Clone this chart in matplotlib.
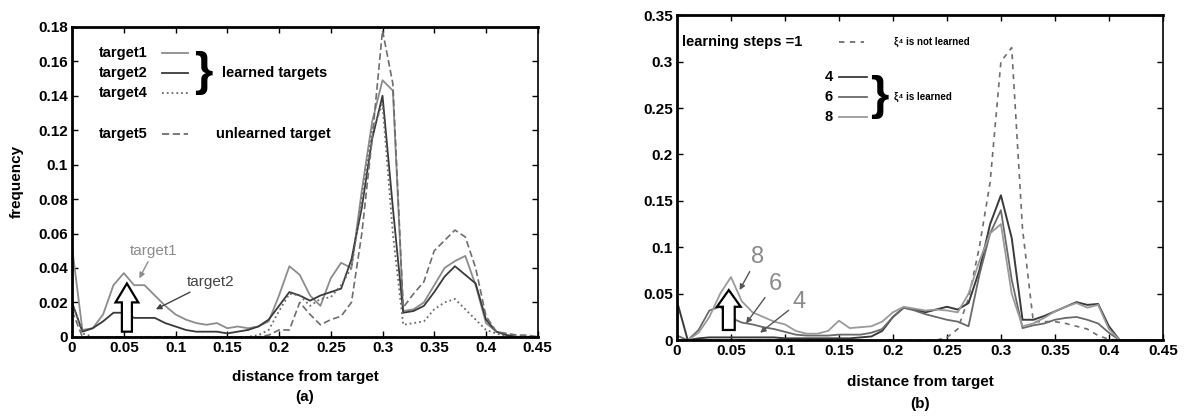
import numpy as np
import matplotlib
matplotlib.use("Agg")
import matplotlib.pyplot as plt
from matplotlib.lines import Line2D
from matplotlib.patches import FancyArrow

plt.rcParams['font.family'] = ['Liberation Sans', 'DejaVu Sans']
plt.rcParams['font.weight'] = 'bold'

# distance bins (shared by both panels)
dist = [0.00, 0.01, 0.02, 0.03, 0.04, 0.05, 0.06, 0.07, 0.08, 0.09,
        0.10, 0.11, 0.12, 0.13, 0.14, 0.15, 0.16, 0.17, 0.18, 0.19,
        0.20, 0.21, 0.22, 0.23, 0.24, 0.25, 0.26, 0.27, 0.28, 0.29,
        0.30, 0.31, 0.32, 0.33, 0.34, 0.35, 0.36, 0.37, 0.38, 0.39,
        0.40, 0.41, 0.42, 0.43, 0.44, 0.45]

# panel (a): frequency per target
target1 = [0.052, 0.004, 0.005, 0.013, 0.030, 0.037, 0.030, 0.030, 0.024, 0.018,
           0.013, 0.010, 0.008, 0.007, 0.008, 0.005, 0.006, 0.005, 0.006, 0.009,
           0.024, 0.041, 0.036, 0.024, 0.018, 0.034, 0.043, 0.040, 0.085, 0.125,
           0.149, 0.143, 0.015, 0.016, 0.020, 0.030, 0.040, 0.044, 0.047, 0.030,
           0.008, 0.003, 0.001, 0.000, 0.000, 0.000]
target2 = [0.020, 0.003, 0.005, 0.009, 0.014, 0.014, 0.011, 0.011, 0.011, 0.008,
           0.006, 0.004, 0.003, 0.003, 0.003, 0.002, 0.003, 0.004, 0.006, 0.010,
           0.018, 0.026, 0.024, 0.021, 0.024, 0.026, 0.028, 0.045, 0.075, 0.115,
           0.140, 0.075, 0.014, 0.015, 0.018, 0.026, 0.035, 0.041, 0.036, 0.031,
           0.010, 0.003, 0.001, 0.000, 0.000, 0.000]
target4 = [0.020, 0.002, 0.000, 0.000, 0.000, 0.000, 0.000, 0.000, 0.000, 0.000,
           0.000, 0.000, 0.000, 0.000, 0.000, 0.000, 0.000, 0.000, 0.001, 0.004,
           0.015, 0.025, 0.024, 0.018, 0.022, 0.023, 0.030, 0.040, 0.080, 0.120,
           0.135, 0.060, 0.007, 0.008, 0.009, 0.016, 0.020, 0.022, 0.016, 0.010,
           0.004, 0.002, 0.000, 0.000, 0.000, 0.000]
target5 = [0.015, 0.000, 0.000, 0.000, 0.000, 0.000, 0.000, 0.000, 0.000, 0.000,
           0.000, 0.000, 0.000, 0.000, 0.000, 0.000, 0.000, 0.000, 0.000, 0.001,
           0.004, 0.004, 0.020, 0.013, 0.007, 0.010, 0.012, 0.020, 0.060, 0.115,
           0.178, 0.147, 0.017, 0.025, 0.032, 0.050, 0.056, 0.062, 0.058, 0.040,
           0.012, 0.003, 0.002, 0.001, 0.001, 0.000]

# panel (b): frequency per number of learning steps
steps1 = [0.000, 0.000, 0.000, 0.000, 0.000, 0.000, 0.000, 0.000, 0.000, 0.000,
          0.000, 0.000, 0.000, 0.000, 0.000, 0.000, 0.000, 0.000, 0.000, 0.000,
          0.000, 0.000, 0.000, 0.000, 0.000, 0.003, 0.012, 0.045, 0.100, 0.170,
          0.300, 0.315, 0.120, 0.020, 0.020, 0.020, 0.018, 0.015, 0.012, 0.005,
          0.001, 0.000, 0.000, 0.000, 0.000, 0.000]
steps4 = [0.042, 0.000, 0.002, 0.003, 0.003, 0.003, 0.003, 0.003, 0.003, 0.003,
          0.002, 0.002, 0.002, 0.002, 0.002, 0.002, 0.002, 0.003, 0.004, 0.010,
          0.025, 0.035, 0.033, 0.030, 0.033, 0.036, 0.033, 0.040, 0.075, 0.125,
          0.156, 0.110, 0.022, 0.022, 0.026, 0.031, 0.036, 0.041, 0.038, 0.039,
          0.015, 0.000, 0.000, 0.000, 0.000, 0.000]
steps6 = [0.005, 0.000, 0.011, 0.032, 0.036, 0.024, 0.019, 0.017, 0.014, 0.012,
          0.009, 0.006, 0.005, 0.005, 0.005, 0.006, 0.006, 0.006, 0.008, 0.012,
          0.025, 0.035, 0.032, 0.028, 0.025, 0.022, 0.020, 0.015, 0.070, 0.115,
          0.140, 0.065, 0.013, 0.016, 0.018, 0.022, 0.024, 0.025, 0.022, 0.018,
          0.008, 0.000, 0.000, 0.000, 0.000, 0.000]
steps8 = [0.000, 0.000, 0.008, 0.025, 0.050, 0.068, 0.042, 0.030, 0.025, 0.020,
          0.017, 0.010, 0.007, 0.007, 0.010, 0.021, 0.013, 0.014, 0.015, 0.020,
          0.030, 0.036, 0.034, 0.032, 0.033, 0.032, 0.030, 0.050, 0.085, 0.115,
          0.125, 0.050, 0.015, 0.018, 0.024, 0.031, 0.036, 0.040, 0.035, 0.038,
          0.012, 0.000, 0.000, 0.000, 0.000, 0.000]

x_ticks = [0, 0.05, 0.1, 0.15, 0.2, 0.25, 0.3, 0.35, 0.4, 0.45]
x_tick_labels = ['0', '0.05', '0.1', '0.15', '0.2', '0.25', '0.3', '0.35', '0.4', '0.45']
ya_ticks = [0, 0.02, 0.04, 0.06, 0.08, 0.1, 0.12, 0.14, 0.16, 0.18]
ya_tick_labels = ['0', '0.02', '0.04', '0.06', '0.08', '0.1', '0.12', '0.14', '0.16', '0.18']
yb_ticks = [0, 0.05, 0.1, 0.15, 0.2, 0.25, 0.3, 0.35]
yb_tick_labels = ['0', '0.05', '0.1', '0.15', '0.2', '0.25', '0.3', '0.35']


def style_axes(ax, yticks, ylabels, ymax):
    ax.set_xlim(0, 0.45)
    ax.set_ylim(0, ymax)
    ax.set_xticks(x_ticks)
    ax.set_xticklabels(x_tick_labels, fontsize=11, fontweight='bold')
    ax.set_yticks(yticks)
    ax.set_yticklabels(ylabels, fontsize=11, fontweight='bold')
    ax.tick_params(direction='in', top=True, right=True, length=4, width=1, pad=3)
    for side in ['left', 'bottom', 'top']:
        ax.spines[side].set_linewidth(2)
    ax.spines['right'].set_linewidth(1.2)


def legend_line(ax, x0, x1, y, **kw):
    ax.add_line(Line2D([x0, x1], [y, y], transform=ax.transAxes, lw=1.3, **kw))


def block_arrow(ax, x, y0, y1, width, head_width, head_len):
    ax.add_patch(FancyArrow(x, y0, 0, y1 - y0, width=width, head_width=head_width,
                            head_length=head_len, length_includes_head=True,
                            fc='white', ec='black', lw=1.6, zorder=5))


def pointer(ax, text, xy, xytext, size, tcolor, acolor):
    ax.annotate(text, xy=xy, xytext=xytext, fontsize=size, fontweight='normal',
                color=tcolor, ha='center', va='center',
                arrowprops=dict(arrowstyle='-|>', color=acolor, lw=1,
                                shrinkA=1, shrinkB=0, mutation_scale=8))


fig = plt.figure(figsize=(11.91, 4.2), dpi=100)
ax1 = fig.add_axes([0.0605, 0.198, 0.391, 0.738])
ax2 = fig.add_axes([0.5684, 0.190, 0.408, 0.774])

# ---- panel (a)
ax1.plot(dist, target1, color='#8c8c8c', lw=1.3)
ax1.plot(dist, target2, color='#3a3a3a', lw=1.3)
ax1.plot(dist, target4, color='#6a6a6a', lw=1.3, ls=':')
ax1.plot(dist, target5, color='#6e6e6e', lw=1.2, ls=(0, (4, 2)))
style_axes(ax1, ya_ticks, ya_tick_labels, 0.18)
ax1.set_ylabel('frequency', fontsize=11, fontweight='bold', labelpad=10)
ax1.text(0.5, -0.13, 'distance from target', transform=ax1.transAxes,
         ha='center', va='center', fontsize=11, fontweight='bold')
ax1.text(0.5, -0.195, '(a)', transform=ax1.transAxes,
         ha='center', va='center', fontsize=11, fontweight='bold')

for label, yl, kw in [('target1', 0.917, dict(color='#8c8c8c')),
                      ('target2', 0.852, dict(color='#3a3a3a')),
                      ('target4', 0.787, dict(color='#6a6a6a', ls=':')),
                      ('target5', 0.655, dict(color='#6e6e6e', ls=(0, (4, 2))))]:
    ax1.text(0.058, yl, label, transform=ax1.transAxes, ha='left', va='center',
             fontsize=10.5, fontweight='bold')
    legend_line(ax1, 0.193, 0.249, yl, **kw)
ax1.text(0.262, 0.852, '}', transform=ax1.transAxes, ha='left', va='center',
         fontsize=34, fontweight='bold')
ax1.text(0.322, 0.852, 'learned targets', transform=ax1.transAxes, ha='left',
         va='center', fontsize=10.5, fontweight='bold')
ax1.text(0.31, 0.655, 'unlearned target', transform=ax1.transAxes, ha='left',
         va='center', fontsize=10.5, fontweight='bold')

block_arrow(ax1, 0.053, 0.003, 0.031, 0.0097, 0.022, 0.011)
pointer(ax1, 'target1', (0.065, 0.034), (0.079, 0.050), 11, '#8c8c8c', '#8c8c8c')
pointer(ax1, 'target2', (0.081, 0.016), (0.134, 0.032), 11, '#444444', '#444444')

# ---- panel (b)
ax2.plot(dist, steps1, color='#6e6e6e', lw=1.2, ls=(0, (3, 3)))
ax2.plot(dist, steps4, color='#3a3a3a', lw=1.4)
ax2.plot(dist, steps6, color='#6a6a6a', lw=1.3)
ax2.plot(dist, steps8, color='#9a9a9a', lw=1.3)
style_axes(ax2, yb_ticks, yb_tick_labels, 0.35)
ax2.text(0.5, -0.13, 'distance from target', transform=ax2.transAxes,
         ha='center', va='center', fontsize=11, fontweight='bold')
ax2.text(0.5, -0.197, '(b)', transform=ax2.transAxes,
         ha='center', va='center', fontsize=11, fontweight='bold')

ax2.text(0.01, 0.917, 'learning steps =1', transform=ax2.transAxes, ha='left',
         va='center', fontsize=10.5, fontweight='bold')
legend_line(ax2, 0.333, 0.385, 0.917, color='#6e6e6e', ls=(0, (3, 3)))
ax2.text(0.447, 0.917, 'ξ⁴ is not learned', transform=ax2.transAxes, ha='left',
         va='center', fontsize=7, fontweight='bold')
for label, yl, col in [('4', 0.809, '#3a3a3a'), ('6', 0.748, '#6a6a6a'), ('8', 0.686, '#9a9a9a')]:
    ax2.text(0.321, yl, label, transform=ax2.transAxes, ha='right', va='center',
             fontsize=10.5, fontweight='bold')
    legend_line(ax2, 0.333, 0.391, yl, color=col)
ax2.text(0.398, 0.748, '}', transform=ax2.transAxes, ha='left', va='center',
         fontsize=34, fontweight='bold')
ax2.text(0.447, 0.748, 'ξ⁴ is learned', transform=ax2.transAxes, ha='left',
         va='center', fontsize=7, fontweight='bold')

block_arrow(ax2, 0.048, 0.011, 0.054, 0.011, 0.022, 0.018)
pointer(ax2, '8', (0.058, 0.054), (0.075, 0.090), 17, '#8a8a8a', '#555555')
pointer(ax2, '6', (0.064, 0.018), (0.091, 0.061), 17, '#8a8a8a', '#555555')
pointer(ax2, '4', (0.077, 0.008), (0.113, 0.041), 17, '#8a8a8a', '#555555')

fig.savefig('out.png', dpi=100)
